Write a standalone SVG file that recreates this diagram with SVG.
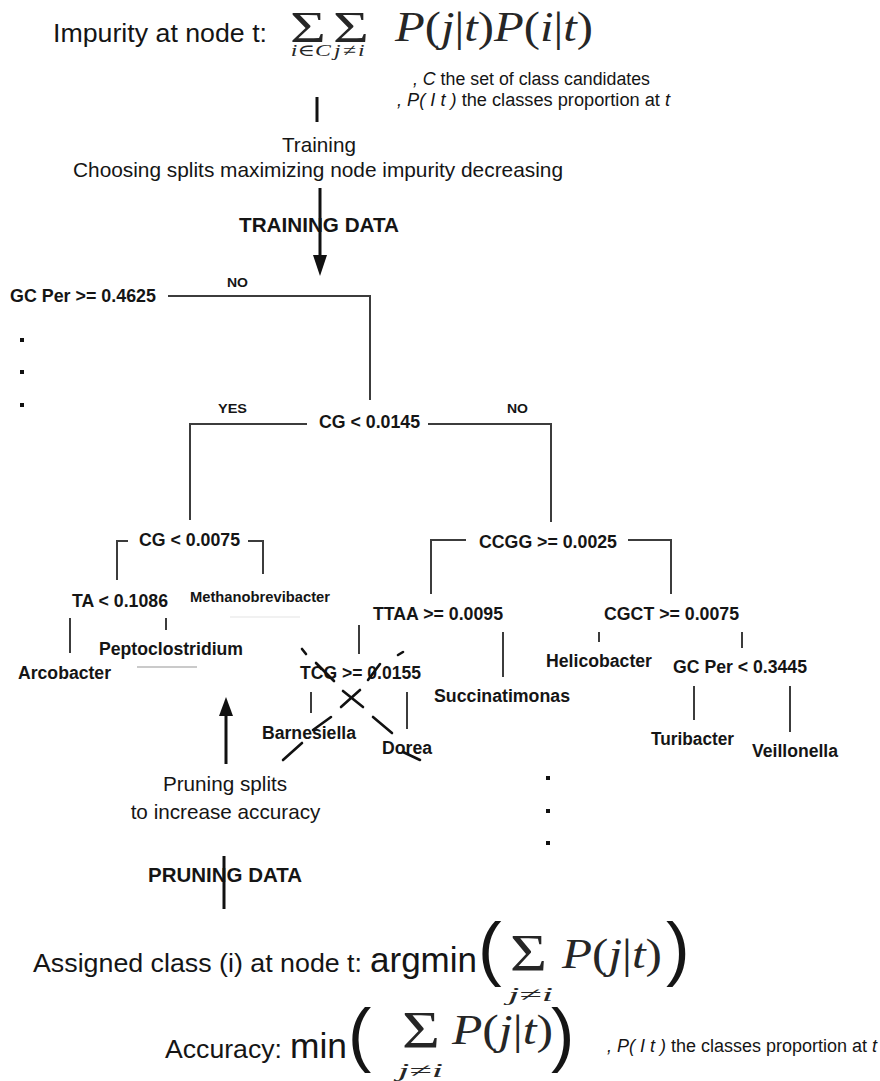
<svg xmlns="http://www.w3.org/2000/svg" width="880" height="1081" viewBox="0 0 880 1081">
<style>
  .t{font-family:"Liberation Sans",Arial,sans-serif;fill:#151515}
  .big{font-size:26.7px}
  .op{font-size:35px}
  .mid{font-size:20.7px}
  .cap{font-size:20px;font-weight:bold}
  .lbl{font-size:17.5px;font-weight:bold}
  .sm{font-size:14.5px;font-weight:bold}
  .yn{font-size:13.5px;font-weight:bold}
  .note{font-size:17.6px}
  .m{font-family:"Liberation Serif","DejaVu Serif",serif;fill:#262626}
  .it{font-style:italic}
  .edge{stroke:#3c3c3c;stroke-width:2;fill:none}
  .flow{stroke:#111;stroke-width:3;fill:none}
  .head{fill:#111}
  .cut{stroke:#111;stroke-width:2.6;stroke-linecap:round}
  .dot{fill:#111}
</style>
<rect width="880" height="1081" fill="#fff"/>

<!-- impurity criterion -->
<g id="impurity-formula">
  <text class="t big" x="53" y="42" textLength="214" lengthAdjust="spacingAndGlyphs">Impurity at node t:</text>
  <text class="m" transform="translate(290 42) scale(1.4 1)"><tspan x="0" y="0" font-size="44">Σ</tspan><tspan x="30.7" y="0" font-size="44">Σ</tspan><tspan x="0.5" y="14" font-size="17" class="it">i∈C</tspan><tspan x="31.5" y="14" font-size="17" class="it" letter-spacing="1.5">j≠i</tspan></text>
  <text class="m" font-size="42" x="395" y="41" textLength="198" lengthAdjust="spacingAndGlyphs"><tspan class="it">P</tspan>(<tspan class="it">j</tspan>|<tspan class="it">t</tspan>)<tspan class="it">P</tspan>(<tspan class="it">i</tspan>|<tspan class="it">t</tspan>)</text>
  <text class="t note" x="413" y="85" textLength="237" lengthAdjust="spacingAndGlyphs"><tspan class="it">, C</tspan> the set of class candidates</text>
  <text class="t note" x="397" y="106" textLength="273" lengthAdjust="spacingAndGlyphs"><tspan class="it">, P( I t )</tspan> the classes proportion at <tspan class="it">t</tspan></text>
</g>

<g id="training-step">
  <text class="t mid" x="319" y="152" text-anchor="middle">Training</text>
  <text class="t mid" x="73" y="177" textLength="490" lengthAdjust="spacingAndGlyphs">Choosing splits maximizing node impurity decreasing</text>
  <text class="t cap" x="239" y="232" textLength="160" lengthAdjust="spacingAndGlyphs">TRAINING DATA</text>
</g>

<g id="pruning-step">
  <text class="t mid" x="225" y="791" text-anchor="middle">Pruning splits</text>
  <text class="t mid" x="225.5" y="819" text-anchor="middle">to increase accuracy</text>
  <text class="t cap" x="148" y="882" textLength="154" lengthAdjust="spacingAndGlyphs">PRUNING DATA</text>
</g>

<!-- class assignment and accuracy -->
<g id="assignment-formula">
  <text class="t big" x="33" y="972" textLength="329" lengthAdjust="spacingAndGlyphs">Assigned class (i) at node t:</text>
  <text class="t op" x="370" y="972" textLength="107" lengthAdjust="spacingAndGlyphs">argmin</text>
  <text class="t" font-size="71" x="478" y="972">(</text>
  <text class="m" font-size="53" x="510" y="971" textLength="37" lengthAdjust="spacingAndGlyphs">Σ</text>
  <text class="m" font-size="19" x="508" y="1001" textLength="45" lengthAdjust="spacingAndGlyphs"><tspan class="it">j</tspan>≠<tspan class="it">i</tspan></text>
  <text class="m" font-size="42" x="562" y="968" textLength="100" lengthAdjust="spacingAndGlyphs"><tspan class="it">P</tspan>(<tspan class="it">j</tspan>|<tspan class="it">t</tspan>)</text>
  <text class="t" font-size="71" x="666" y="972">)</text>
</g>

<g id="accuracy-formula">
  <text class="t big" x="165" y="1058" textLength="117" lengthAdjust="spacingAndGlyphs">Accuracy:</text>
  <text class="t op" x="290" y="1058" textLength="57" lengthAdjust="spacingAndGlyphs">min</text>
  <text class="t" font-size="70" x="348" y="1058">(</text>
  <text class="m" font-size="53" x="402" y="1048" textLength="38" lengthAdjust="spacingAndGlyphs">Σ</text>
  <text class="m" font-size="19" x="398" y="1077" textLength="45" lengthAdjust="spacingAndGlyphs"><tspan class="it">j</tspan>≠<tspan class="it">i</tspan></text>
  <text class="m" font-size="42" x="452" y="1044" textLength="101" lengthAdjust="spacingAndGlyphs"><tspan class="it">P</tspan>(<tspan class="it">j</tspan>|<tspan class="it">t</tspan>)</text>
  <text class="t" font-size="70" x="551" y="1058">)</text>
  <text class="t note" x="607" y="1052" textLength="270" lengthAdjust="spacingAndGlyphs"><tspan class="it">, P( I t )</tspan> the classes proportion at <tspan class="it">t</tspan></text>
</g>

<!-- decision tree nodes -->
<g id="node-gcper-root"><text class="t lbl" x="10" y="302" textLength="146" lengthAdjust="spacingAndGlyphs">GC Per &gt;= 0.4625</text></g>
<g id="label-no-root"><text class="t yn" x="227" y="287" textLength="21" lengthAdjust="spacingAndGlyphs">NO</text></g>
<g id="label-yes"><text class="t yn" x="218" y="413" textLength="29" lengthAdjust="spacingAndGlyphs">YES</text></g>
<g id="node-cg0145"><text class="t lbl" x="319" y="428" textLength="101" lengthAdjust="spacingAndGlyphs">CG &lt; 0.0145</text></g>
<g id="label-no"><text class="t yn" x="507" y="413" textLength="21" lengthAdjust="spacingAndGlyphs">NO</text></g>
<g id="node-cg0075"><text class="t lbl" x="139" y="546" textLength="101" lengthAdjust="spacingAndGlyphs">CG &lt; 0.0075</text></g>
<g id="node-ccgg"><text class="t lbl" x="479" y="548" textLength="138" lengthAdjust="spacingAndGlyphs">CCGG &gt;= 0.0025</text></g>
<g id="node-ta"><text class="t lbl" x="72" y="607" textLength="96" lengthAdjust="spacingAndGlyphs">TA &lt; 0.1086</text></g>
<g id="leaf-methanobrevibacter"><text class="t sm" x="190" y="602" textLength="140" lengthAdjust="spacingAndGlyphs">Methanobrevibacter</text></g>
<g id="node-ttaa"><text class="t lbl" x="373" y="620" textLength="130" lengthAdjust="spacingAndGlyphs">TTAA &gt;= 0.0095</text></g>
<g id="node-cgct"><text class="t lbl" x="604" y="620" textLength="135" lengthAdjust="spacingAndGlyphs">CGCT &gt;= 0.0075</text></g>
<g id="leaf-peptoclostridium"><text class="t lbl" x="99" y="655" textLength="144" lengthAdjust="spacingAndGlyphs">Peptoclostridium</text></g>
<g id="leaf-arcobacter"><text class="t lbl" x="18" y="679" textLength="93" lengthAdjust="spacingAndGlyphs">Arcobacter</text></g>
<g id="leaf-helicobacter"><text class="t lbl" x="546" y="667" textLength="106" lengthAdjust="spacingAndGlyphs">Helicobacter</text></g>
<g id="node-gcper"><text class="t lbl" x="673" y="673" textLength="134" lengthAdjust="spacingAndGlyphs">GC Per &lt; 0.3445</text></g>
<g id="node-tcg"><text class="t lbl" x="300" y="679" textLength="121" lengthAdjust="spacingAndGlyphs">TCG &gt;= 0.0155</text></g>
<g id="leaf-succinatimonas"><text class="t lbl" x="434" y="702" textLength="136" lengthAdjust="spacingAndGlyphs">Succinatimonas</text></g>
<g id="leaf-barnesiella"><text class="t lbl" x="262" y="739" textLength="94" lengthAdjust="spacingAndGlyphs">Barnesiella</text></g>
<g id="leaf-dorea"><text class="t lbl" x="382" y="754" textLength="50" lengthAdjust="spacingAndGlyphs">Dorea</text></g>
<g id="leaf-turibacter"><text class="t lbl" x="651" y="745" textLength="83" lengthAdjust="spacingAndGlyphs">Turibacter</text></g>
<g id="leaf-veillonella"><text class="t lbl" x="752" y="757" textLength="86" lengthAdjust="spacingAndGlyphs">Veillonella</text></g>

<!-- elided branches -->
<g id="ellipsis-left">
  <rect class="dot" x="20" y="338" width="4" height="4"/>
  <rect class="dot" x="20" y="370" width="4" height="4"/>
  <rect class="dot" x="20" y="403" width="4" height="4"/>
</g>
<g id="ellipsis-right">
  <rect class="dot" x="546" y="776" width="4" height="4"/>
  <rect class="dot" x="546" y="809" width="4" height="4"/>
  <rect class="dot" x="546" y="841" width="4" height="4"/>
</g>

<g id="connectors">
  <path class="edge" d="M168 296H370V400"/>
  <path class="edge" d="M307 424H190V520"/>
  <path class="edge" d="M428 424H551V522"/>
  <path class="edge" d="M128 541H117V580"/>
  <path class="edge" d="M248 541H263V574"/>
  <path class="edge" d="M70 618V653M166 618V630"/>
  <path class="edge" d="M466 540H431V594"/>
  <path class="edge" d="M628 540H671V594"/>
  <path class="edge" d="M359 625V654M503 632V677"/>
  <path class="edge" d="M311 692V713M407 692V729"/>
  <path class="edge" d="M599 632V642M742 632V648"/>
  <path class="edge" d="M694 686V720M790 686V732"/>
  <path d="M137 667H197" stroke="#b8b8b8" stroke-width="1.5"/>
  <path d="M230 617H300" stroke="#ececec" stroke-width="1.5"/>
  <!-- process flow -->
  <path class="flow" d="M317 97V122" stroke-width="2.6"/>
  <path class="flow" d="M320 188V258"/>
  <polygon class="head" points="313,255 327,255 320,276"/>
  <path class="flow" d="M226 764V712"/>
  <polygon class="head" points="219,716 233,716 226,697"/>
  <path class="flow" d="M224 856V909" stroke-width="2.6"/>
</g>

<!-- pruned subtree crossed out -->
<g id="prune-cross">
  <line class="cut" x1="302" y1="649" x2="306" y2="654"/>
  <line class="cut" x1="316" y1="663" x2="334" y2="681"/>
  <line class="cut" x1="343" y1="691" x2="363" y2="707"/>
  <line class="cut" x1="373" y1="717" x2="392" y2="733"/>
  <line class="cut" x1="403" y1="752" x2="420" y2="760"/>
  <line class="cut" x1="403" y1="652" x2="398" y2="655"/>
  <line class="cut" x1="380" y1="664" x2="368" y2="680"/>
  <line class="cut" x1="360" y1="690" x2="341" y2="707"/>
  <line class="cut" x1="331" y1="717" x2="313" y2="730"/>
  <line class="cut" x1="302" y1="743" x2="283" y2="760"/>
</g>
</svg>
